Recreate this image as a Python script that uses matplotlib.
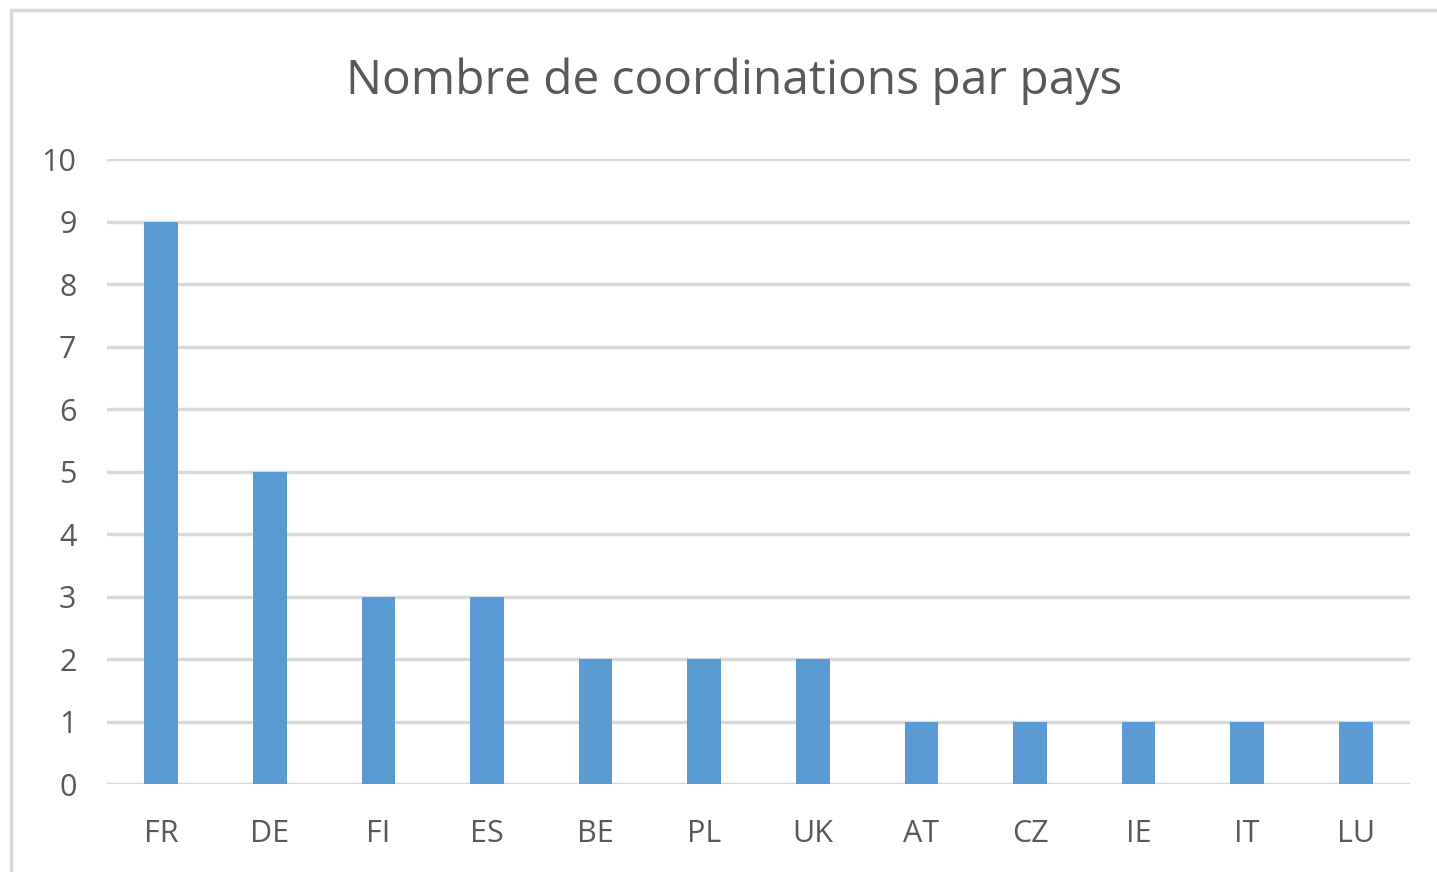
import matplotlib.pyplot as plt
from matplotlib.patches import Rectangle

pays = ['FR', 'DE', 'FI', 'ES', 'BE', 'PL', 'UK', 'AT', 'CZ', 'IE', 'IT', 'LU']
coordinations = [9, 5, 3, 3, 2, 2, 2, 1, 1, 1, 1, 1]

plt.rcParams['font.family'] = ['Open Sans', 'DejaVu Sans']
texte = '#595959'

fig = plt.figure(figsize=(14.37, 8.72), dpi=100)
# cadre gris autour du graphique
fig.patches.append(Rectangle((11 / 1437, -0.1), 1.2, 1 - 10 / 872 + 0.1,
                             transform=fig.transFigure, fill=False,
                             edgecolor='#D9D9D9', linewidth=2.5))

ax = fig.add_axes([107 / 1437, 1 - 784 / 872, 1303 / 1437, 625 / 872])
ax.bar(range(len(pays)), coordinations, width=0.31, color='#5B9BD5', zorder=3)

ax.set_xlim(-0.5, len(pays) - 0.5)
ax.set_ylim(0, 10)
ax.set_yticks(range(0, 11))
ax.set_xticks(range(len(pays)))
ax.set_xticklabels(pays)
ax.grid(axis='y', color='#D9D9D9', linewidth=2.5, zorder=0)
ax.tick_params(length=0, labelsize=22, colors=texte)
ax.tick_params(axis='x', pad=25)
ax.tick_params(axis='y', pad=22)
for s in ax.spines.values():
    s.set_visible(False)

fig.text(734 / 1437, 1 - 81 / 872, 'Nombre de coordinations par pays',
         ha='center', va='center', fontsize=34.5, color=texte)

fig.savefig('out.png')
